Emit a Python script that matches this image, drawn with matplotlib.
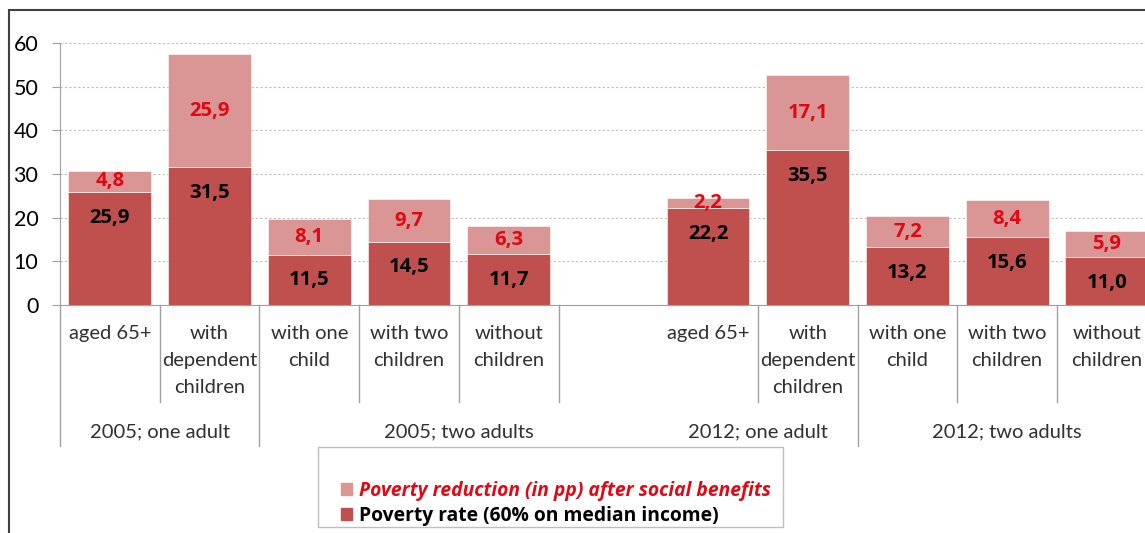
import matplotlib.pyplot as plt
from matplotlib.patches import Rectangle, Patch

# data (one empty slot between 2005 and 2012)
categories = ['aged 65+', 'with\ndependent\nchildren', 'with one\nchild', 'with two\nchildren',
              'without\nchildren', '', 'aged 65+', 'with\ndependent\nchildren', 'with one\nchild',
              'with two\nchildren', 'without\nchildren']
poverty_rate = [25.9, 31.5, 11.5, 14.5, 11.7, 0, 22.2, 35.5, 13.2, 15.6, 11.0]
reduction = [4.8, 25.9, 8.1, 9.7, 6.3, 0, 2.2, 17.1, 7.2, 8.4, 5.9]
groups = ['2005; one adult', '2005; two adults', '2012; one adult', '2012; two adults']
group_spans = [(0, 2), (2, 6), (6, 8), (8, 11)]

dark = '#C0504D'
light = '#D99694'
red_txt = '#E30613'
bold_font = ['Open Sans', 'DejaVu Sans']

W, H = 1145, 533
plt.rcParams['font.family'] = ['Lato', 'DejaVu Sans']
fig = plt.figure(figsize=(W / 100, H / 100), dpi=100)

# axes in pixel layout: x0=60, slot=99.7px, y0=305, 60 -> y=43
x0, slot, y0, ytop = 60, 99.7, 305, 43
ax = fig.add_axes([x0 / W, (H - y0) / H, 11 * slot / W, (y0 - ytop) / H])

x = list(range(len(categories)))
b1 = ax.bar(x, poverty_rate, width=0.83, color=dark, edgecolor='white', linewidth=0.4)
b2 = ax.bar(x, reduction, width=0.83, bottom=poverty_rate, color=light, edgecolor='white', linewidth=0.4)

# dark labels sit near the top of their segment, red ones centred
for i, v in enumerate(poverty_rate):
    if v:
        ax.annotate(('%.1f' % v).replace('.', ','), (i, v), xytext=(0, -18.5), textcoords='offset points',
                    ha='center', va='center', fontsize=14.6, fontweight='bold', color='black',
                    family=bold_font)
lab2 = [('%.1f' % v).replace('.', ',') if v else '' for v in reduction]
ax.bar_label(b2, labels=lab2, label_type='center', fontsize=14.6, fontweight='bold', color=red_txt,
             family=bold_font)

ax.set_xlim(-0.5, 10.5)
ax.set_ylim(0, 60)
ax.set_yticks(range(0, 61, 10))
ax.tick_params(axis='y', labelsize=15.5, length=5.5, color='#A0A0A0', pad=10)
ax.set_xticks([])
ax.grid(axis='y', linestyle=(0, (2, 2)), color='#BFBFBF', linewidth=0.8)
ax.set_axisbelow(True)
for s in ['top', 'right']:
    ax.spines[s].set_visible(False)
ax.spines['left'].set_color('#A0A0A0')
ax.spines['bottom'].set_color('#A0A0A0')

# category labels and separators (pixel positions converted to axes fraction)
def yf(py):
    return (y0 - py) / (y0 - ytop)

tr = ax.get_xaxis_transform()
for i, c in enumerate(categories):
    ax.text(i, yf(325), c, transform=tr, ha='center', va='top', fontsize=14.5,
            color='#303030', linespacing=1.7)

long_seps = [0, 2, 8]
short_seps = [1, 3, 4, 5, 7, 9, 10]
for s in long_seps:
    ax.plot([s - 0.5, s - 0.5], [0, yf(446)], transform=tr, color='#A0A0A0', lw=1, clip_on=False)
for s in short_seps:
    ax.plot([s - 0.5, s - 0.5], [0, yf(402)], transform=tr, color='#A0A0A0', lw=1, clip_on=False)

for g, (s, e) in zip(groups, group_spans):
    ax.text((s + e - 1) / 2, yf(432), g, transform=tr, ha='center', va='center',
            fontsize=14.5, color='#303030')

# legend box
fig.add_artist(Rectangle((318 / W, (H - 527) / H), (783 - 318) / W, 80 / H,
                         transform=fig.transFigure, fill=False, edgecolor='#BFBFBF', lw=1))
handles = [Patch(color=light), Patch(color=dark)]
leg = fig.legend(handles, ['Poverty reduction (in pp) after social benefits',
                           'Poverty rate (60% on median income)'],
                 loc='upper left', bbox_to_anchor=(331 / W, (H - 471) / H), frameon=False,
                 prop={'family': bold_font, 'size': 13.9, 'weight': 'bold'},
                 handlelength=0.6, handleheight=0.6, handletextpad=0.35,
                 labelspacing=0.28, borderpad=0)
t1, t2 = leg.get_texts()
t1.set_color(red_txt)
t1.set_fontstyle('italic')

# outer chart border (cut off at right and bottom)
fig.add_artist(Rectangle((9 / W, -0.2), 2, 1.2 - 10 / H, transform=fig.transFigure,
                         fill=False, edgecolor='#404040', lw=1.5))

fig.savefig('out.png', dpi=100)
